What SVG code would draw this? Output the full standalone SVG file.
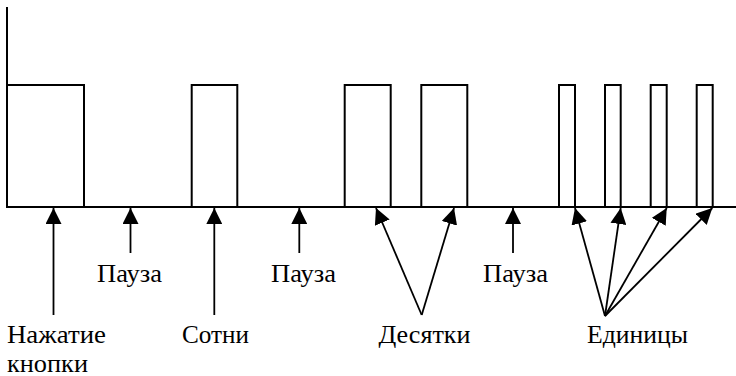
<svg xmlns="http://www.w3.org/2000/svg" width="736" height="376" viewBox="0 0 736 376">
<defs>
<marker id="ah" markerUnits="userSpaceOnUse" markerWidth="16" markerHeight="16" viewBox="0 0 16 16" refX="16" refY="8" orient="auto">
<path d="M0,0 L16,8 L0,16 Z" fill="#000"/>
</marker>
<style>
.sig{fill:none;stroke:#000;stroke-width:2}
.ar{fill:none;stroke:#000;stroke-width:1.8;marker-end:url(#ah)}
.t{font-family:"Liberation Serif","Times New Roman",serif;font-size:26px;fill:#000}
</style>
</defs>
<rect width="736" height="376" fill="#fff"/>
<g id="signal">
<path class="sig" d="M7,7 V207 H736"/>
<path class="sig" d="M7,85 H84 V207"/>
<path class="sig" d="M191.7,207 V85 H237.3 V207"/>
<path class="sig" d="M344.7,207 V85 H390.7 V207"/>
<path class="sig" d="M421.3,207 V85 H467.3 V207"/>
<path class="sig" d="M559,207 V85 H575 V207"/>
<path class="sig" d="M605,207 V85 H620.7 V207"/>
<path class="sig" d="M650.7,207 V85 H666.7 V207"/>
<path class="sig" d="M696.7,207 V85 H712.7 V207"/>
</g>
<g id="connectors">
<line class="ar" x1="53.5" y1="315" x2="53.5" y2="208"/>
<line class="ar" x1="130.5" y1="253" x2="130.5" y2="208"/>
<line class="ar" x1="214.3" y1="315" x2="214.3" y2="208"/>
<line class="ar" x1="299.3" y1="253" x2="299.3" y2="208"/>
<line class="ar" x1="421.7" y1="315" x2="376" y2="208"/>
<line class="ar" x1="421.7" y1="315" x2="454" y2="208"/>
<line class="ar" x1="513" y1="253" x2="513" y2="208"/>
<line class="ar" x1="605" y1="316" x2="575" y2="208"/>
<line class="ar" x1="605" y1="316" x2="620.7" y2="208"/>
<line class="ar" x1="605" y1="316" x2="666.7" y2="208"/>
<line class="ar" x1="605" y1="316" x2="712.3" y2="208"/>
</g>
<g id="label-press"><text class="t" x="7" y="342.5" textLength="99" lengthAdjust="spacingAndGlyphs">Нажатие</text><text class="t" x="7" y="371.5" textLength="81" lengthAdjust="spacingAndGlyphs">кнопки</text></g>
<g id="label-pause1"><text class="t" x="97" y="281.5" textLength="65" lengthAdjust="spacingAndGlyphs">Пауза</text></g>
<g id="label-hundreds"><text class="t" x="182" y="342.5" textLength="67" lengthAdjust="spacingAndGlyphs">Сотни</text></g>
<g id="label-pause2"><text class="t" x="271" y="281.5" textLength="65" lengthAdjust="spacingAndGlyphs">Пауза</text></g>
<g id="label-tens"><text class="t" x="378.5" y="342.5" textLength="92" lengthAdjust="spacingAndGlyphs">Десятки</text></g>
<g id="label-pause3"><text class="t" x="483" y="281.5" textLength="65" lengthAdjust="spacingAndGlyphs">Пауза</text></g>
<g id="label-units"><text class="t" x="587" y="342.5" textLength="101" lengthAdjust="spacingAndGlyphs">Единицы</text></g>
</svg>
